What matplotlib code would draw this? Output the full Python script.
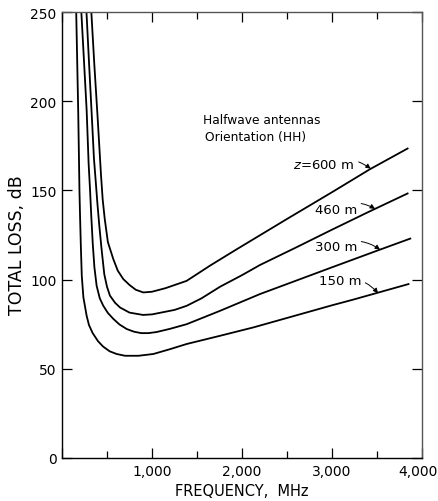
import numpy as np
import matplotlib
matplotlib.use("Agg")
import matplotlib.pyplot as plt
from matplotlib.transforms import ScaledTranslation

# total loss curves, (frequency MHz, loss dB)
freq_150 = [158, 170, 180, 188, 194, 201, 210, 220, 238, 274, 300, 341, 400, 456, 530, 607,
            700, 850, 1015, 1200, 1385, 1756, 2126, 2500, 3000, 3237, 3850]
loss_150 = [250, 220, 195, 170, 150, 135, 118, 102, 90, 79.7, 74.5, 70, 65.5, 62.5, 59.8, 58.3,
            57.3, 57.3, 58.3, 61, 63.9, 68.5, 73.2, 78.5, 85.6, 88.8, 97.5]

freq_300 = [215, 245, 274, 296, 312, 326, 342, 360, 385, 420, 459, 510, 570, 640, 719, 800,
            880, 960, 1050, 1200, 1385, 1756, 2200, 2600, 3000, 3500, 3870]
loss_300 = [250, 222, 195, 165, 150, 135, 120, 107, 96.5, 89.5, 85.3, 81.3, 78, 74.8, 72.3, 70.8,
            70, 70, 70.6, 72.4, 75, 82.5, 91.9, 99.4, 106.9, 116.2, 123]

freq_460 = [272, 300, 333, 355, 375, 393, 415, 440, 470, 500, 533, 590, 644, 750, 900, 1000,
            1100, 1250, 1385, 1550, 1756, 2000, 2200, 2600, 3000, 3400, 3840]
loss_460 = [250, 222, 190, 168, 155, 143, 130, 117, 103, 96, 91, 87, 84.4, 81.5, 80.2, 80.5,
            81.5, 83, 85.3, 89.5, 96, 102.5, 108.2, 118, 128, 137.8, 148.3]

freq_600 = [326, 360, 397, 433, 452, 475, 510, 570, 620, 681, 750, 820, 904, 1000, 1150, 1385,
            1650, 1941, 2500, 3000, 3422, 3840]
loss_600 = [250, 220, 190, 159, 145, 134, 121, 111.5, 105, 100.3, 97, 94.3, 92.8, 93.2, 95.2, 99.3,
            108, 117, 134, 149, 161.9, 173.5]

curve_labels = ["$z$=600 m", "460 m", "300 m", "150 m"]
label_text_xy = [(2910, 164.7), (3044, 139.5), (3044, 118.8), (3089, 99.7)]
label_tip_xy = [(3430, 162.2), (3478, 139.7), (3533, 116.8), (3511, 92.4)]

xtick_vals = [0, 1000, 2000, 3000, 4000]
xtick_labels = ["", "1,000", "2,000", "3,000", "4,000"]
ytick_vals = [0, 50, 100, 150, 200, 250]

plt.rcParams['font.family'] = ['DejaVu Sans']
plt.rcParams['font.size'] = 10

fig = plt.figure(figsize=(4.39, 5.02), dpi=100)
ax = fig.add_axes([0.1412, 0.0857, 0.8201, 0.8883])

for f, l in [(freq_150, loss_150), (freq_300, loss_300), (freq_460, loss_460), (freq_600, loss_600)]:
    ax.plot(f, l, color='black', lw=1.3, solid_joinstyle='round')

for txt, xy_t, xy_tip in zip(curve_labels, label_text_xy, label_tip_xy):
    ax.annotate(txt, xy=xy_tip, xytext=xy_t, ha='center', va='center', fontsize=9.5,
                arrowprops=dict(arrowstyle='-|>', color='black', lw=0.7, mutation_scale=7,
                                shrinkA=1, shrinkB=0, connectionstyle='arc3,rad=-0.3'))

ax.text(1567, 190, "Halfwave antennas", ha='left', va='center', fontsize=8.8)
ax.text(1590, 180.5, "Orientation (HH)", ha='left', va='center', fontsize=8.8)

ax.set_xlim(0, 4000)
ax.set_ylim(0, 250)
ax.set_xticks(xtick_vals)
ax.set_xticklabels(xtick_labels)
ax.set_xticks([500, 1500, 2500, 3500], minor=True)
ax.set_yticks(ytick_vals)
ax.tick_params(which='major', direction='in', length=7, width=0.9, top=True, right=True,
               labelsize=10, pad=4)
ax.tick_params(which='minor', direction='in', length=5, width=0.9, top=True, right=False)
# last x label sits against the right edge of the page
last = ax.get_xticklabels()[-1]
last.set_transform(last.get_transform() + ScaledTranslation(-4 / 100, 0, fig.dpi_scale_trans))
for s in ax.spines.values():
    s.set_linewidth(1.0)
ax.spines['top'].set_color('#555555')
ax.spines['right'].set_color('#555555')

ax.set_xlabel("FREQUENCY,  MHz", fontsize=10.5, labelpad=4)
ax.set_ylabel("TOTAL LOSS, dB", fontsize=12.5)
ax.yaxis.set_label_coords(-0.1, 0.48)

fig.savefig("out.png", dpi=100)
